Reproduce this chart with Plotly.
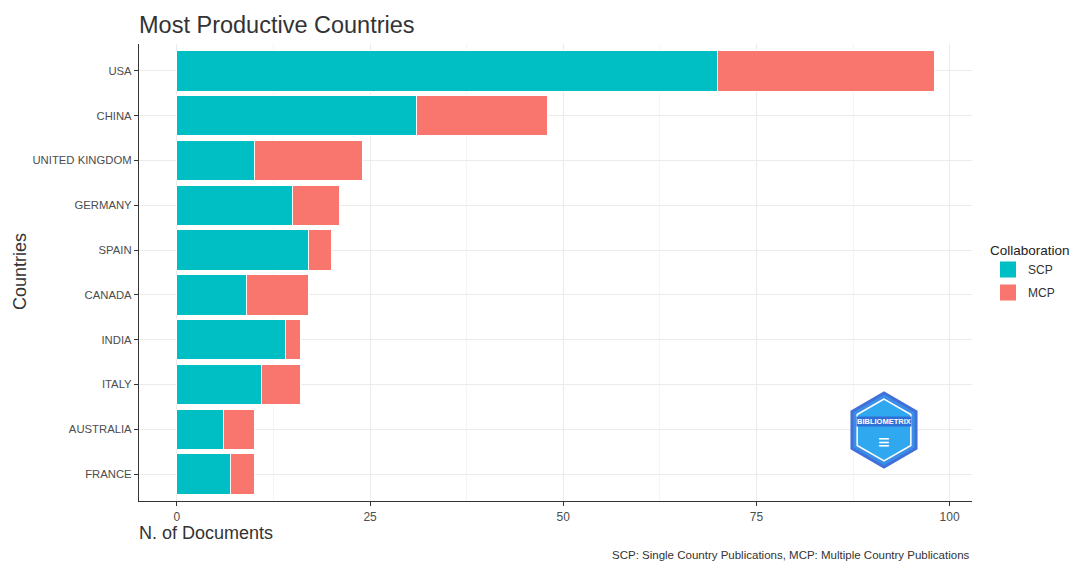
import plotly.graph_objects as go
import math

countries = ["USA", "CHINA", "UNITED KINGDOM", "GERMANY", "SPAIN", "CANADA", "INDIA", "ITALY", "AUSTRALIA", "FRANCE"]
scp = [70, 31, 10, 15, 17, 9, 14, 11, 6, 7]
mcp = [28, 17, 14, 6, 3, 8, 2, 5, 4, 3]
x_ticks = [0, 25, 50, 75, 100]
SCP_COLOR, MCP_COLOR = "#00BFC4", "#F8766D"

fig = go.Figure()
fig.add_trace(go.Bar(y=countries, x=scp, name="SCP", orientation="h", width=0.9, showlegend=False,
                     marker=dict(color=SCP_COLOR, line=dict(color="white", width=1))))
fig.add_trace(go.Bar(y=countries, x=mcp, name="MCP", orientation="h", width=0.9, showlegend=False,
                     marker=dict(color=MCP_COLOR, line=dict(color="white", width=1))))
# legend keys (large square swatches like ggplot)
for nm, col in [("SCP", SCP_COLOR), ("MCP", MCP_COLOR)]:
    fig.add_trace(go.Scatter(x=[None], y=[None], mode="markers", name=nm, legendgroup=nm,
                             marker=dict(symbol="square", size=20, color=col)))

OFF = 8  # page body margin
W, H = 1078 - OFF, 563 - OFF
L = 139 - OFF
T = 44 - OFF
R = W - (972 - OFF)
B = H - (501 - OFF)
pw, ph = W - L - R, H - T - B

def px2paper(xs, ys):
    # screen pixel -> paper coords
    return (xs - OFF - L) / pw, (H - B - (ys - OFF)) / ph

fig.update_layout(
    width=W, height=H,
    barmode="stack",
    plot_bgcolor="white", paper_bgcolor="white",
    margin=dict(l=L, r=R, t=T, b=B, autoexpand=False),
    font=dict(family="Liberation Sans, Arial, sans-serif", color="#4d4d4d"),
    title=dict(text="Most Productive Countries", x=0, xref="paper", xanchor="left",
               y=1 - (25 - OFF) / H, yanchor="middle", font=dict(size=23.5, color="#333333")),
    legend=dict(title=dict(text="Collaboration", font=dict(size=13.5, color="#222222")),
                x=(988 - OFF - L) / pw, xanchor="left", y=0.5, yanchor="middle",
                font=dict(size=12, color="#333333"), traceorder="grouped",
                itemsizing="trace", tracegroupgap=4, itemwidth=30),
    xaxis=dict(range=[-4.9, 102.9], tickvals=x_ticks, ticks="outside", ticklen=4,
               tickcolor="#333333", showline=True, linecolor="#333333", linewidth=1.2,
               showgrid=True, gridcolor="#ebebeb", gridwidth=1,
               minor=dict(dtick=12.5, tick0=12.5, showgrid=True, gridcolor="#f5f5f5", gridwidth=0.6),
               zeroline=False, tickfont=dict(size=12, color="#4d4d4d")),
    yaxis=dict(categoryorder="array", categoryarray=countries[::-1], range=[-0.6, 9.6],
               ticks="outside", ticklen=4, tickcolor="#333333", showline=True,
               linecolor="#333333", linewidth=1.2, showgrid=True, gridcolor="#ebebeb",
               tickfont=dict(size=11.3, color="#4d4d4d"), zeroline=False),
)

ax, ay = px2paper(139, 533)
fig.add_annotation(text="N. of Documents", x=ax, y=ay, xref="paper", yref="paper",
                   xanchor="left", yanchor="middle", showarrow=False, xshift=-2,
                   font=dict(size=18, color="#333333"))
cx, cy = px2paper(20, 272)
fig.add_annotation(text="Countries", x=cx, y=cy, xref="paper", yref="paper",
                   xanchor="center", yanchor="middle", textangle=-90, showarrow=False,
                   font=dict(size=18, color="#333333"))
capx, capy = px2paper(972, 555)
fig.add_annotation(text="SCP: Single Country Publications, MCP: Multiple Country Publications",
                   x=capx, y=capy, xref="paper", yref="paper", xanchor="right", yanchor="middle",
                   showarrow=False, font=dict(size=11.5, color="#333333"))

# Bibliometrix logo (hexagon)
def hexpath(cxs, cys, r):
    pts = []
    for k in range(6):
        a = math.radians(90 + 60 * k)
        pts.append(px2paper(cxs + r * math.cos(a), cys - r * math.sin(a)))
    return "M " + " L ".join(f"{x:.5f},{y:.5f}" for x, y in pts) + " Z"

fig.add_shape(type="path", path=hexpath(884, 430, 37), xref="paper", yref="paper",
              fillcolor="#3a8ee8", line=dict(color="#4070d8", width=3), layer="above")
fig.add_shape(type="path", path=hexpath(884, 430, 31), xref="paper", yref="paper",
              fillcolor="#30a8f0", line=dict(color="white", width=1.5), layer="above")
lx, ly = px2paper(884, 421)
fig.add_annotation(text="<b>BIBLIOMETRIX</b>", x=lx, y=ly, xref="paper", yref="paper",
                   xanchor="center", yanchor="middle",
                   showarrow=False, font=dict(size=7.5, color="white"),
                   bgcolor="#2f6fd8", borderpad=0)
lx2, ly2 = px2paper(884, 442)
fig.add_annotation(text="≡", x=lx2, y=ly2, xref="paper", yref="paper",
                   xanchor="center", yanchor="middle",
                   showarrow=False, font=dict(size=20, color="white"))

fig.write_html("out.html")
